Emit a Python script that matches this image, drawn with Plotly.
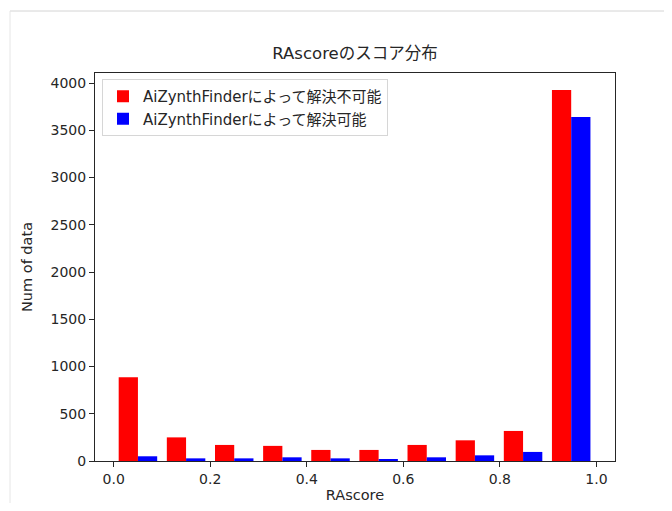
import plotly.graph_objects as go

bin_edges = [0.0004, 0.1001, 0.1998, 0.2996, 0.3993, 0.4990, 0.5987, 0.6984, 0.7982, 0.8979, 0.9976]
unsolvable_counts = [885, 250, 170, 160, 117, 117, 170, 219, 318, 3926]
solvable_counts = [50, 28, 28, 39, 28, 18, 39, 60, 96, 3640]
series_names = ["AiZynthFinderによって解決不可能", "AiZynthFinderによって解決可能"]
x_ticks = [0.0, 0.2, 0.4, 0.6, 0.8, 1.0]
y_ticks = [0, 500, 1000, 1500, 2000, 2500, 3000, 3500, 4000]

centers = [(bin_edges[i] + bin_edges[i + 1]) / 2 for i in range(len(bin_edges) - 1)]

FONT = "DejaVu Sans, Noto Sans CJK JP, sans-serif"

# page body has an 8px margin on every side; keep the figure inside the viewport
W, H = 656, 495
L, R, T, B = 87, 49, 65, 42
PW, PH = W - L - R, H - T - B

fig = go.Figure()
fig.add_trace(go.Bar(x=centers, y=unsolvable_counts, name=series_names[0],
                     marker=dict(color="#ff0000", line=dict(width=0))))
fig.add_trace(go.Bar(x=centers, y=solvable_counts, name=series_names[1],
                     marker=dict(color="#0000ff", line=dict(width=0))))

fig.update_layout(
    width=W, height=H,
    margin=dict(l=L, r=R, t=T, b=B, autoexpand=False),
    paper_bgcolor="white", plot_bgcolor="white",
    barmode="group", bargap=0.2, bargroupgap=0,
    font=dict(family=FONT, size=14, color="#262626"),
    title=dict(text="RAscoreのスコア分布", x=0.5, xanchor="center",
               xref="paper", y=1 - (53 - 8) / H, yanchor="middle",
               font=dict(size=16.5, color="#262626"), automargin=False),
    legend=dict(x=(102 - 95) / PW, y=1 - (79 - 73) / PH, xanchor="left", yanchor="top",
                bgcolor="rgba(255,255,255,0.8)", bordercolor="#d6d6d6", borderwidth=1,
                font=dict(size=15, color="#262626"), tracegroupgap=0,
                itemsizing="constant"),
    xaxis=dict(range=[-0.0387, 1.0385], tickvals=x_ticks,
               ticktext=[f"{v:.1f}" for v in x_ticks], automargin=False,
               showgrid=False, zeroline=False, showline=True, linecolor="#262626",
               linewidth=1, mirror=True, ticks="outside", ticklen=5, tickcolor="#262626",
               tickfont=dict(size=14),
               title=dict(text="RAscore", font=dict(size=14.5), standoff=6)),
    yaxis=dict(range=[0, 4106], tickvals=y_ticks, automargin=False,
               showgrid=False, zeroline=False, showline=True, linecolor="#262626",
               linewidth=1, mirror=True, ticks="outside", ticklen=5, tickcolor="#262626",
               tickfont=dict(size=14),
               title=dict(text="Num of data", font=dict(size=14.5), standoff=14)),
)

# notebook output frame lines
fx0 = (10 - 8 - L) / PW
fy0 = (H - B - (11 - 8)) / PH
fig.add_shape(type="line", xref="paper", yref="paper",
              x0=fx0, x1=(W - L) / PW + 0.05, y0=fy0, y1=fy0,
              line=dict(color="#d4d4d4", width=1))
fig.add_shape(type="line", xref="paper", yref="paper",
              x0=fx0, x1=fx0, y0=fy0, y1=-B / PH - 0.05,
              line=dict(color="#e6e6e6", width=1))

fig.write_html("out.html")
